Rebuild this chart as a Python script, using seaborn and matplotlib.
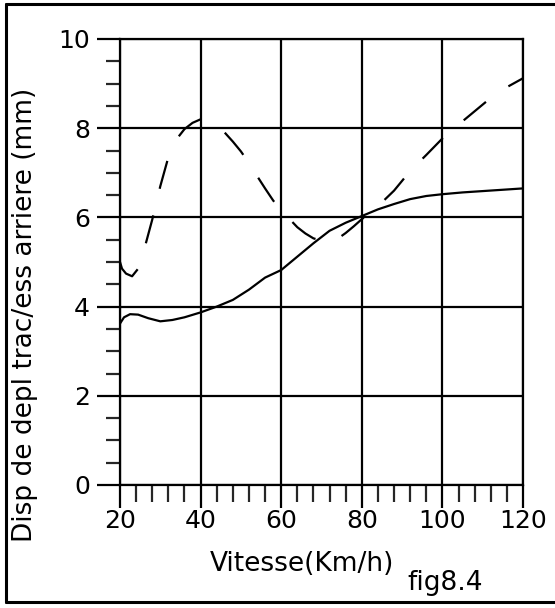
import matplotlib
matplotlib.use("Agg")
import matplotlib.pyplot as plt
from matplotlib.lines import Line2D
from matplotlib.ticker import MultipleLocator
import seaborn as sns
import pandas as pd

# values
vitesse_solid = [20, 21, 22.5, 24.5, 27, 30, 33, 36, 40, 44, 48, 52, 56, 60, 64, 68,
                 72, 76, 80, 84, 88, 92, 96, 100, 105, 110, 115, 120]
disp_solid = [3.62, 3.76, 3.83, 3.82, 3.74, 3.67, 3.70, 3.76, 3.87, 4.00, 4.15, 4.38,
              4.65, 4.82, 5.12, 5.42, 5.70, 5.88, 6.03, 6.18, 6.30, 6.41, 6.48, 6.52,
              6.56, 6.59, 6.62, 6.65]

vitesse_dash = [20, 20.5, 21.5, 23, 24.5, 26, 28, 30, 32, 34, 36, 38, 40, 42, 44, 46,
                48, 50, 52, 54, 56, 58, 60, 62, 64, 66, 68, 70, 72, 74, 76, 78, 80, 84,
                88, 92, 96, 100, 104, 108, 112, 116, 120]
disp_dash = [5.00, 4.85, 4.74, 4.68, 4.85, 5.28, 5.95, 6.70, 7.35, 7.75, 7.98, 8.12,
             8.20, 8.15, 8.05, 7.90, 7.70, 7.48, 7.22, 6.93, 6.65, 6.38, 6.15, 5.97,
             5.78, 5.64, 5.53, 5.48, 5.48, 5.52, 5.65, 5.80, 5.96, 6.25, 6.60, 7.04,
             7.40, 7.77, 8.08, 8.38, 8.68, 8.92, 9.12]

x_ticks = [20, 40, 60, 80, 100, 120]
y_ticks = [0, 2, 4, 6, 8, 10]

sns.set_style("white")
plt.rcParams["font.family"] = ["DejaVu Sans"]
plt.rcParams["text.color"] = "black"

df_solid = pd.DataFrame({"vitesse": vitesse_solid, "disp": disp_solid})
df_dash = pd.DataFrame({"vitesse": vitesse_dash, "disp": disp_dash})

fig = plt.figure(figsize=(5.55, 6.08), dpi=100)
ax = fig.add_axes([120 / 555, 1 - 485 / 608, 403 / 555, 446 / 608])

sns.lineplot(data=df_solid, x="vitesse", y="disp", ax=ax, color="black",
             lw=1.6, estimator=None)
sns.lineplot(data=df_dash, x="vitesse", y="disp", ax=ax, color="black",
             lw=1.6, estimator=None, linestyle=(0, (13, 12.3)))

ax.set_xlim(20, 120)
ax.set_ylim(0, 10)
ax.set_xticks(x_ticks)
ax.set_yticks(y_ticks)
ax.xaxis.set_minor_locator(MultipleLocator(4))
ax.yaxis.set_minor_locator(MultipleLocator(0.5))
ax.grid(True, which="major", color="black", lw=1.6)
ax.set_axisbelow(True)
for s in ax.spines.values():
    s.set_color("black")
    s.set_linewidth(1.6)

ax.tick_params(axis="both", which="major", direction="out", length=16.5, width=1.6,
               labelsize=18, colors="black", left=True, bottom=True)
ax.tick_params(axis="y", which="major", pad=5)
ax.tick_params(axis="x", which="major", pad=1)
ax.tick_params(axis="y", which="minor", direction="out", length=10, width=1.6, left=True)
ax.tick_params(axis="x", which="minor", direction="out", length=12, width=1.6, bottom=True)

ax.set_xlabel("Vitesse(Km/h)", fontsize=19, color="black")
ax.xaxis.set_label_coords((302 - 120) / 403, (485 - 551) / 446)
ax.set_ylabel("")

fig.text(25 / 555, 1 - 315 / 608, "Disp de depl trac/ess arriere (mm)", rotation=90,
         ha="center", va="center", fontsize=19, color="black")
fig.text(407 / 555, 1 - 590 / 608, "fig8.4", ha="left", va="baseline", fontsize=19,
         color="black")

# scan frame around the page
fig.add_artist(Line2D([6 / 555, 6 / 555], [1 - 4 / 608, 1 - 602 / 608], color="black", lw=2.2))
fig.add_artist(Line2D([6 / 555, 1], [1 - 4 / 608, 1 - 4 / 608], color="black", lw=2.2))
fig.add_artist(Line2D([6 / 555, 1], [1 - 602 / 608, 1 - 602 / 608], color="black", lw=2.2))

fig.savefig("out.png", dpi=100, facecolor="white")
